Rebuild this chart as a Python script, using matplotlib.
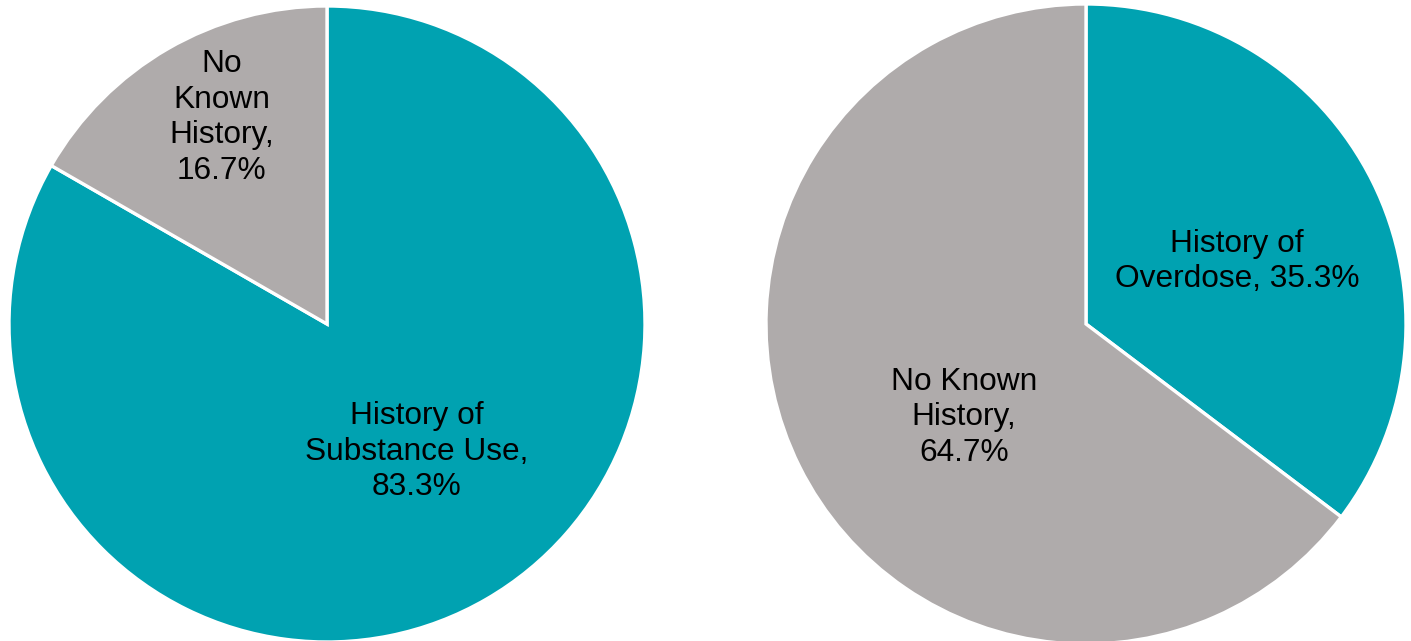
import numpy as np
import matplotlib
matplotlib.use("Agg")
import matplotlib.pyplot as plt

plt.rcParams['font.family'] = ['Liberation Sans', 'DejaVu Sans']

# left pie: substance use history
left_labels = ['History of\nSubstance Use,\n', 'No\nKnown\nHistory,\n']
left_values = [83.3, 16.7]

# right pie: overdose history
right_labels = ['History of\nOverdose, ', 'No Known\nHistory,\n']
right_values = [35.3, 64.7]

teal = '#00A2B1'
gray = '#AFABAB'

W, H = 1411, 641
fig = plt.figure(figsize=(W / 100, H / 100), dpi=100)


def make_pie(center, radius, values, labels, dists, nudges):
    cx, cy = center
    ax = fig.add_axes([(cx - radius) / W, (H - cy - radius) / H, 2 * radius / W, 2 * radius / H])
    wedges, _ = ax.pie(values, colors=[teal, gray], startangle=90, counterclock=False,
                       radius=1.0, wedgeprops=dict(edgecolor='white', linewidth=2.4))
    for w, lab, v, d, n in zip(wedges, labels, values, dists, nudges):
        ang = np.deg2rad((w.theta1 + w.theta2) / 2 + n)
        ax.text(d * np.cos(ang), d * np.sin(ang), lab + f'{v:.1f}%', ha='center', va='center',
                fontsize=22.8, linespacing=1.24, color='black')
    ax.set_xlim(-1, 1)
    ax.set_ylim(-1, 1)
    ax.set_aspect('equal')
    ax.axis('off')
    return ax


make_pie((327, 324), 318, left_values, left_labels, [0.49, 0.73], [5, -3])
make_pie((1086, 324), 320, right_values, right_labels, [0.51, 0.48], [-4, 11])

fig.savefig('out.png', dpi=100)
